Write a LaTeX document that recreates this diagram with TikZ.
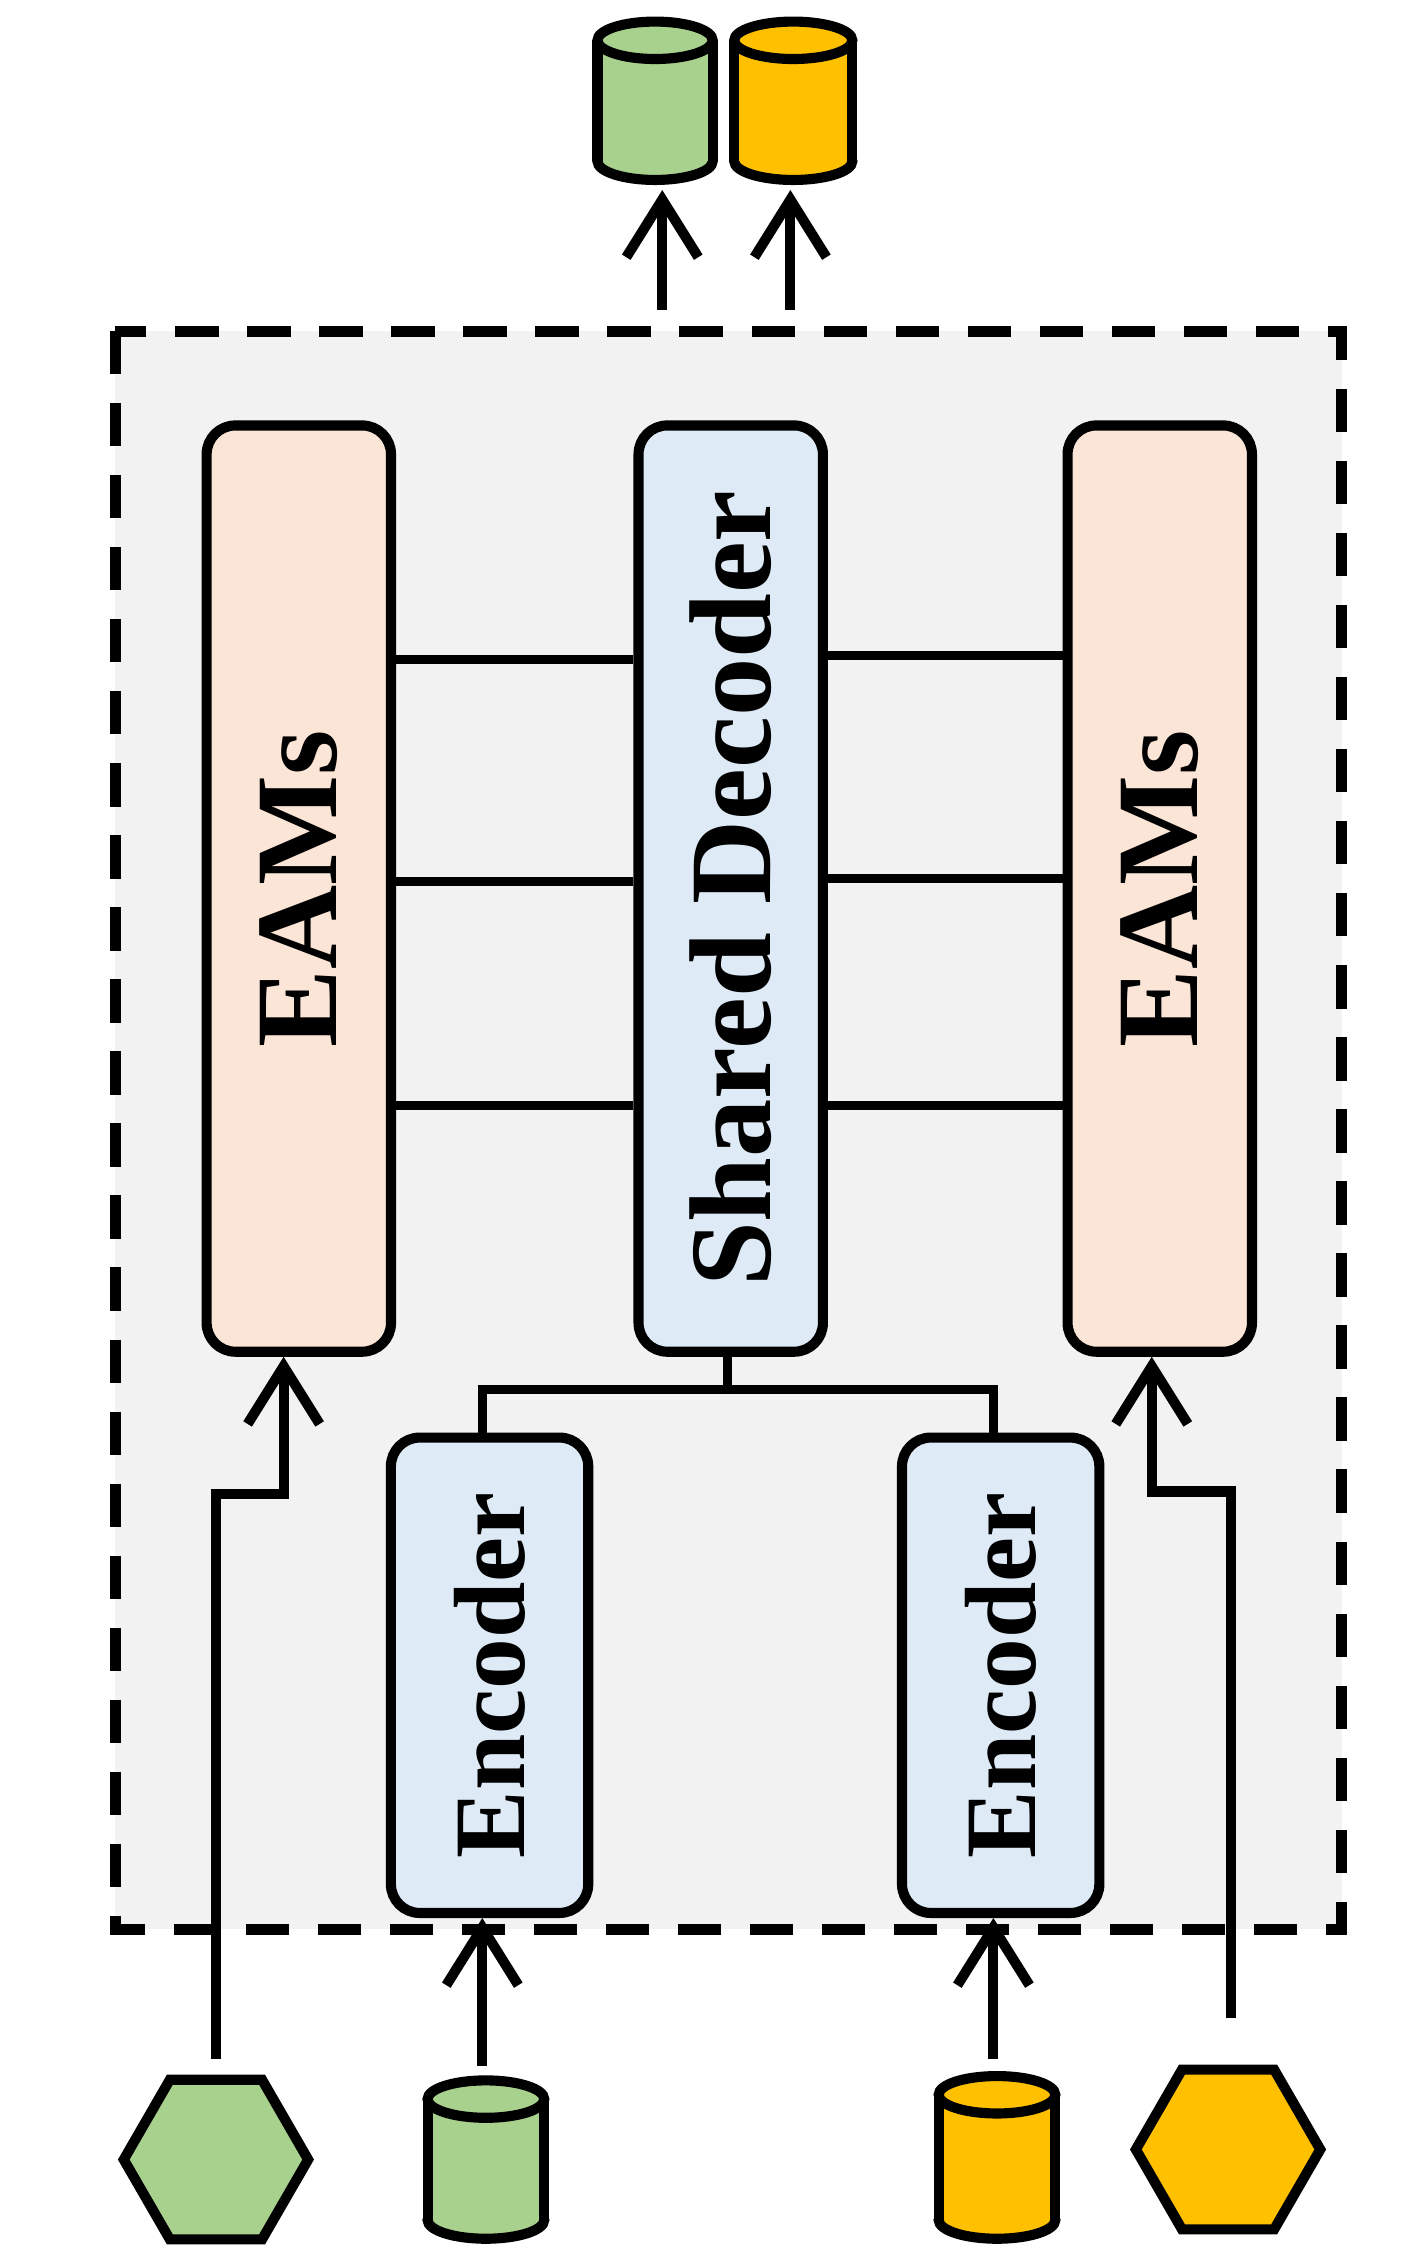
\documentclass[tikz,border=0pt]{standalone}
\usepackage{fontspec}
\setmainfont{Liberation Serif}
\usetikzlibrary{arrows.meta,shapes.geometric}
\definecolor{peach}{HTML}{FBE5D6}
\definecolor{lblue}{HTML}{DEEBF7}
\definecolor{bg}{HTML}{F2F2F2}
\definecolor{gr}{HTML}{A9D18E}
\definecolor{yl}{HTML}{FFC000}
\tikzset{
  box/.style={draw,line width=2pt,rounded corners=0.2cm,inner sep=0pt},
  lbl/.style={rotate=90,font=\bfseries},
  ln/.style={line width=1.8pt},
  arr/.style={line width=2pt,-{Straight Barb[length=0.4cm,width=0.5cm,line width=2pt]}},
}
\newcommand{\mycyl}[6]{% name, x0,x1,y0,y1,color
  \filldraw[fill=#6,line width=2pt] ({(#2+#3)/2},#5) ellipse ({(#3-#2)/2} and 13);
  \fill[#6] (#2,#4) rectangle (#3,#5);
  \draw[line width=2pt] (#2,#4)--(#2,#5) (#3,#4)--(#3,#5);
  \filldraw[fill=#6,line width=2pt] ({(#2+#3)/2},#4) ellipse ({(#3-#2)/2} and 13);
  \coordinate (#1) at ({(#2+#3)/2},{(#4+#5)/2});
}
\begin{document}
\begin{tikzpicture}[x=0.01cm,y=-0.01cm]
\useasboundingbox (0,0) rectangle (985,1567);
\draw[fill=bg,line width=2.2pt,dash pattern=on 0.3cm off 0.2cm] (80,230) rectangle (932,1340);
\node[box,fill=peach,minimum width=1.28cm,minimum height=6.43cm,anchor=north west] (le) at (140,292) {};
\node[lbl,font=\bfseries\fontsize{23}{23}\selectfont] at (le) {EAMs};
\node[box,fill=lblue,minimum width=1.28cm,minimum height=6.43cm,anchor=north west] (sd) at (440,292) {};
\node[lbl,font=\bfseries\fontsize{23}{23}\selectfont] at (sd) {Shared Decoder};
\node[box,fill=peach,minimum width=1.28cm,minimum height=6.43cm,anchor=north west] (re) at (738,292) {};
\node[lbl,font=\bfseries\fontsize{23}{23}\selectfont] at (re) {EAMs};
\node[box,fill=lblue,minimum width=1.37cm,minimum height=3.3cm,anchor=north west] (e1) at (268,995) {};
\node[lbl,font=\bfseries\fontsize{20}{20}\selectfont] at (e1) {Encoder};
\node[box,fill=lblue,minimum width=1.37cm,minimum height=3.3cm,anchor=north west] (e2) at (623,995) {};
\node[lbl,font=\bfseries\fontsize{20}{20}\selectfont] at (e2) {Encoder};
\foreach \y in {458,612,768}{\draw[ln] (le.east |- 0,\y) -- (sd.west |- 0,\y);}
\foreach \y in {455,610,768}{\draw[ln] (sd.east |- 0,\y) -- (re.west |- 0,\y);}
\coordinate (j) at (505,965);
\draw[ln] (sd.south -| j) -- (j);
\draw[ln] (e1.north -| 335,0) |- (j) -| (e2.north -| 690,0);
\mycyl{tg}{415}{495}{28}{112}{gr}
\mycyl{ty}{510}{592}{28}{112}{yl}
\mycyl{bg1}{297}{378}{1458}{1542}{gr}
\mycyl{by}{652}{733}{1455}{1542}{yl}
\node[regular polygon,regular polygon sides=6,minimum size=1.28cm,draw,line width=2pt,fill=gr,inner sep=0pt] (hg) at (150,1500) {};
\node[regular polygon,regular polygon sides=6,minimum size=1.28cm,draw,line width=2pt,fill=yl,inner sep=0pt] (hy) at (853,1493) {};
\coordinate (a1) at (150,1430); \coordinate (a2) at (855,1402);
\draw[arr] (a1) |- (197,1038) -- (le.south -| 197,0);
\draw[arr] (a2) |- (800,1036) -- (re.south -| 800,0);
\coordinate (b1) at (335,1435); \coordinate (b2) at (690,1430);
\draw[arr] (b1) -- (e1.south -| b1);
\draw[arr] (b2) -- (e2.south -| b2);
\coordinate (t1) at (460,215); \coordinate (t2) at (549,215);
\draw[arr] (t1) -- (460,132);
\draw[arr] (t2) -- (549,132);
\end{tikzpicture}
\end{document}
